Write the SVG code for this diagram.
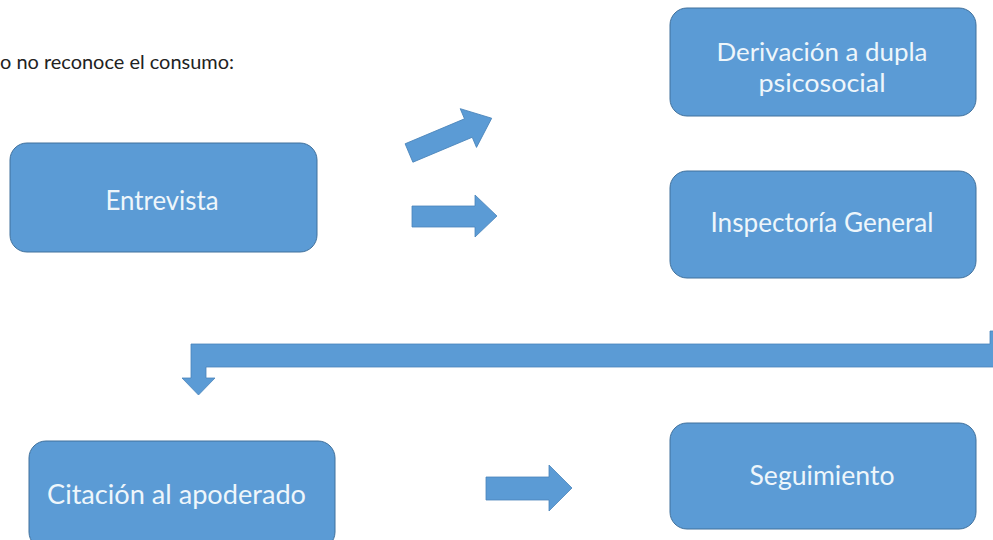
<svg xmlns="http://www.w3.org/2000/svg" width="993" height="540" viewBox="0 0 993 540">
  <style>
    .box { fill: #5B9BD5; stroke: #41719C; stroke-width: 1; }
    .arrow { fill: #5B9BD5; stroke: #4A84BA; stroke-width: 0.8; }
    .lbl { font-family: Lato, "Liberation Sans", sans-serif; font-size: 27px; fill: #EEF6FB; text-anchor: middle; }
    .lbl2 { font-size: 25px; }
    .note { font-family: Lato, "Liberation Sans", sans-serif; font-size: 19px; fill: #222222; }
  </style>
  <rect width="993" height="540" fill="#FFFFFF"/>
  <text class="note" x="0" y="69" textLength="234" lengthAdjust="spacingAndGlyphs">o no reconoce el consumo:</text>

  <g id="node-entrevista">
    <rect class="box" x="10" y="143" width="307" height="109" rx="17" ry="17"/>
    <text class="lbl" x="162" y="210" textLength="113" lengthAdjust="spacingAndGlyphs">Entrevista</text>
  </g>
  <g id="node-derivacion">
    <rect class="box" x="670" y="8" width="306" height="108" rx="17" ry="17"/>
    <text class="lbl lbl2" x="822" y="61" textLength="211" lengthAdjust="spacingAndGlyphs">Derivación a dupla</text>
    <text class="lbl lbl2" x="822" y="92" textLength="127" lengthAdjust="spacingAndGlyphs">psicosocial</text>
  </g>
  <g id="node-inspectoria">
    <rect class="box" x="670" y="171" width="306" height="107" rx="17" ry="17"/>
    <text class="lbl" x="822" y="231.5" textLength="223" lengthAdjust="spacingAndGlyphs">Inspectoría General</text>
  </g>
  <g id="node-citacion">
    <rect class="box" x="29" y="441" width="306" height="108" rx="17" ry="17"/>
    <text class="lbl" x="176.5" y="504" textLength="259" lengthAdjust="spacingAndGlyphs">Citación al apoderado</text>
  </g>
  <g id="node-seguimiento">
    <rect class="box" x="670" y="423" width="306" height="106" rx="17" ry="17"/>
    <text class="lbl" x="822" y="485" textLength="145" lengthAdjust="spacingAndGlyphs">Seguimiento</text>
  </g>

  <g id="connectors">
    <polygon class="arrow" transform="translate(409,153) rotate(-22.8)" points="0,-10 64.4,-10 64.4,-21 89.7,0 64.4,21 64.4,10 0,10"/>
    <polygon class="arrow" points="412,206 475,206 475,195 497,216 475,237 475,227 412,227"/>
    <polygon class="arrow" points="990,331 1000,331 1000,367 206,367 206,378 215,378 198.5,395 182,378 191,378 191,344 990,344"/>
    <polygon class="arrow" points="486,477 549,477 549,465 572,488 549,511 549,500 486,500"/>
  </g>
</svg>
